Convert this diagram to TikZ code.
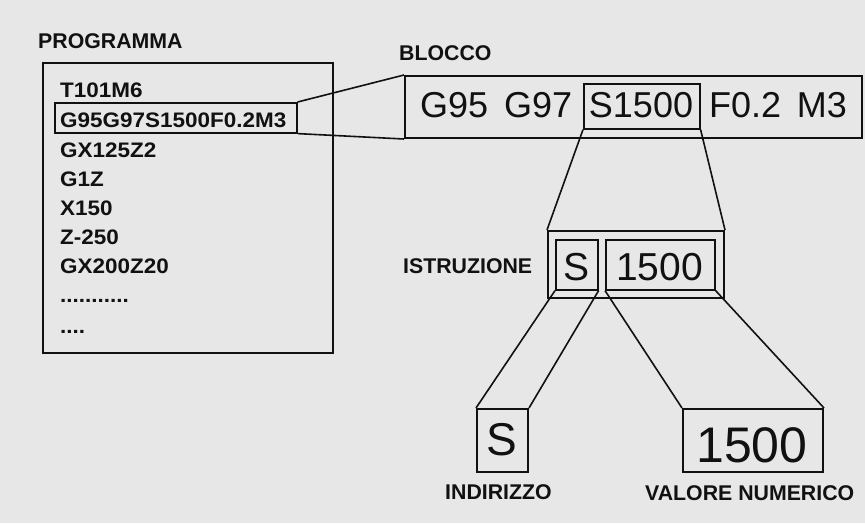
\documentclass[tikz,border=0pt]{standalone}
\usepackage{fontspec}
\setmainfont{Liberation Sans}
\newfontfamily\listfont[FakeStretch=1.07]{Liberation Sans}
\newfontfamily\labelfont{Liberation Sans}
\definecolor{bg}{HTML}{E7E7E7}
\definecolor{ink}{HTML}{111111}
\begin{document}
\begin{tikzpicture}[x=1pt,y=-1pt]
\useasboundingbox[fill=bg] (0,0) rectangle (865,523);
\tikzset{
 frame/.style={draw=ink,line width=2pt,inner sep=0pt,anchor=north west},
 link/.style={draw=ink,line width=1.6pt},
 lab/.style={text=ink,inner sep=0pt,anchor=base west,font=\labelfont\bfseries\fontsize{21.3}{25}\selectfont},
 lst/.style={text=ink,inner sep=0pt,anchor=base west,font=\listfont\bfseries\fontsize{21}{25}\selectfont},
 big/.style={text=ink,inner sep=0pt,anchor=base,font=\fontsize{#1}{#1}\selectfont},
 big/.default=36
}
% boxes
\node[frame,minimum width=290,minimum height=290] (prog) at (42,62) {};
\node[frame,line width=1.6pt,minimum width=242,minimum height=30] (hl) at (54,102) {};
\node[frame,minimum width=457,minimum height=62] (blk) at (404,75) {};
\node[frame,line width=1.6pt,minimum width=116,minimum height=45] (s15) at (583,83) {};
\node[frame,minimum width=176,minimum height=67] (istr) at (547,230) {};
\node[frame,line width=1.6pt,minimum width=42,minimum height=50] (is) at (555,239) {};
\node[frame,line width=1.6pt,minimum width=109,minimum height=50] (in) at (605,239) {};
\node[frame,minimum width=51,minimum height=63] (ind) at (476,408) {};
\node[frame,minimum width=140,minimum height=63] (val) at (682,408) {};
% connectors
\draw[link] (hl.north east) -- (blk.north west);
\draw[link] (hl.south east) -- (blk.south west);
\draw[link] (s15.south west) -- (istr.north west);
\draw[link] (s15.south east) -- (istr.north east);
\draw[link] (is.south west) -- (ind.north west);
\draw[link] (is.south east) -- (ind.north east);
\draw[link] (in.south west) -- (val.north west);
\draw[link] (in.south east) -- (val.north east);
% labels
\node[lab] (lprog) at (38,48) {PROGRAMMA};
\node[lab] (lblk) at (399,60) {BLOCCO};
\node[lab] (listr) at (403,273) {ISTRUZIONE};
\node[lab] (lind) at (445,499) {INDIRIZZO};
\node[lab] (lval) at (645,500) {VALORE NUMERICO};
% program listing
\node[lst] (p1) at (60,97) {T101M6};
\node[lst] (p2) at (60,127) {G95G97S1500F0.2M3};
\node[lst] (p3) at (60,157) {GX125Z2};
\node[lst] (p4) at (60,186) {G1Z};
\node[lst] (p5) at (60,215) {X150};
\node[lst] (p6) at (60,244) {Z-250};
\node[lst] (p7) at (60,273) {GX200Z20};
\node[lst] (p8) at (60,302) {...........};
\node[lst] (p9) at (60,333) {....};
% block text
\node[big,anchor=base west] (b1) at (420,117) {G95};
\node[big,anchor=base west] (b2) at (504,117) {G97};
\node[big] (b3) at (641,117) {S1500};
\node[big,anchor=base west] (b4) at (709,117) {F0.2};
\node[big,anchor=base east] (b5) at (847,117) {M3};
% instruction text
\node[big=39] (i1) at (576,280) {S};
\node[big=39] (i2) at (659.5,280) {1500};
% bottom text
\node[big=46] (d1) at (501.5,455) {S};
\node[big=50] (v1) at (752,462) {1500};
\end{tikzpicture}
\end{document}
